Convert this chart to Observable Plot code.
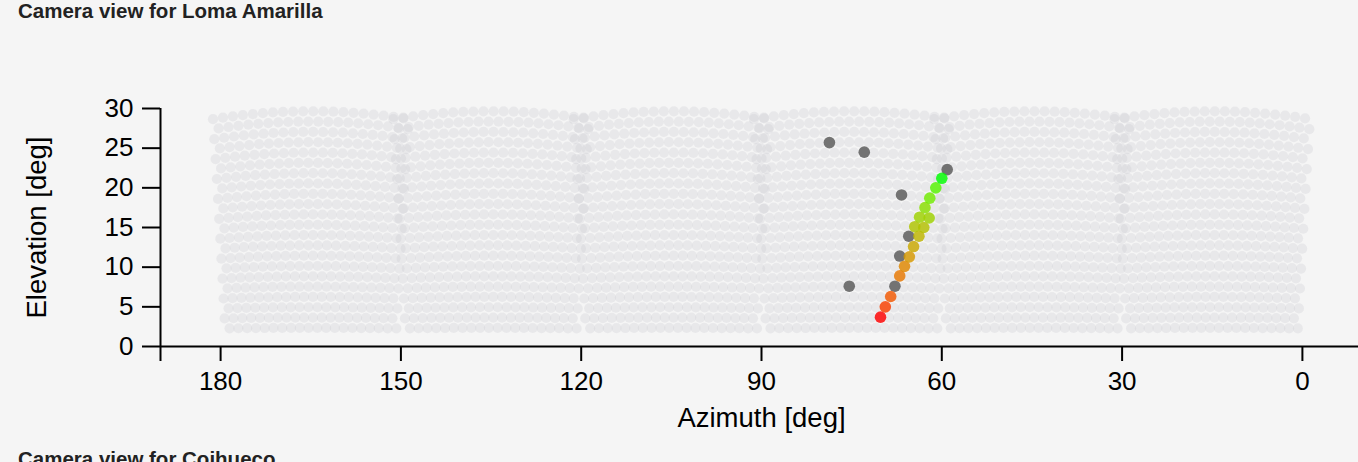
<!DOCTYPE html>
<html>
<head>
<meta charset="utf-8">
<script src="https://cdn.jsdelivr.net/npm/d3@7"></script>
<script src="https://cdn.jsdelivr.net/npm/@observablehq/plot@0.6"></script>
<style>
  html, body { margin: 0; padding: 0; background: #f5f5f5; overflow: hidden; width: 1358px; height: 462px; }
  .title { position: absolute; left: 18px; font: bold 20.5px "Liberation Sans", Arial, Helvetica, sans-serif; line-height: 20px; color: #222; white-space: nowrap; }
  #chart { position: absolute; left: 0; top: 30px; }
</style>
</head>
<body>
<div class="title" style="top:1px">Camera view for Loma Amarilla</div>
<div id="chart"></div>
<div class="title" style="top:449px">Camera view for Coihueco</div>
<script>
// ---- data ----
const xTicks = [180, 150, 120, 90, 60, 30, 0];
const yTicks = [0, 5, 10, 15, 20, 25, 30];
const cameraAzimuths = [165, 135, 105, 75, 45, 15];   // camera axis azimuths
const cameraElevation = 16;                            // camera axis elevation
const cameraColumns = 20;
const cameraRows = 22;

// triggered pixels on the track (azimuth, elevation, relative trigger time)
const trackAz   = [70.2, 69.4, 68.5, 67.0, 66.2, 65.4, 64.7, 63.8, 63.0, 64.5, 62.1, 63.7, 62.8, 62.0, 61.0, 60.0];
const trackEl   = [3.7, 5.0, 6.3, 8.9, 10.1, 11.3, 12.6, 13.9, 15.0, 15.1, 16.2, 16.3, 17.5, 18.7, 20.0, 21.2];
const trackTime = [0, 0.07, 0.14, 0.25, 0.32, 0.40, 0.48, 0.56, 0.62, 0.64, 0.72, 0.72, 0.80, 0.87, 0.93, 1.0];

// noise pixels (not on the track)
const noiseAz = [78.7, 72.9, 59.1, 66.7, 65.5, 67.0, 75.4, 67.8];
const noiseEl = [25.7, 24.5, 22.3, 19.1, 13.9, 11.4, 7.6, 7.6];

// ---- camera pixel layout (hexagonal grid projected onto az/el) ----
const deg = Math.PI / 180;
const pixels = [];
for (const c of cameraAzimuths) {
  const e0 = cameraElevation * deg;
  for (let j = 0; j < cameraRows; j++) {
    for (let i = 0; i < cameraColumns; i++) {
      const a = (i - (cameraColumns - 1) / 2 - 0.25 + 0.5 * (j % 2)) * 1.5 * deg;
      const b = (j - (cameraRows - 1) / 2) * 1.3 * deg;
      const x = Math.tan(a), y = Math.tan(b), z = 1;
      const y2 = y * Math.cos(e0) + z * Math.sin(e0);
      const z2 = -y * Math.sin(e0) + z * Math.cos(e0);
      pixels.push({
        az: c + Math.atan2(x, z2) / deg,
        el: Math.atan2(y2, Math.hypot(x, z2)) / deg
      });
    }
  }
}
const track = trackAz.map((az, i) => ({az, el: trackEl[i], t: trackTime[i]}));
const noise = noiseAz.map((az, i) => ({az, el: noiseEl[i]}));

const font = '"Liberation Sans", Arial, Helvetica, sans-serif';

const plot = Plot.plot({
  width: 1380,
  height: 410,
  marginLeft: 160,
  marginRight: 18,
  marginTop: 78,
  marginBottom: 94,
  style: {background: "transparent", maxWidth: "none", overflow: "visible", fontFamily: font, color: "black"},
  x: {domain: [190, -10], axis: null},
  y: {domain: [0, 30], axis: null},
  color: {type: "linear", domain: [0, 1], range: ["red", "lime"], interpolate: "lab"},
  marks: [
    Plot.dot(pixels, {x: "az", y: "el", r: 5.1, fill: "#c6c6ce", fillOpacity: 0.27, stroke: "none"}),
    Plot.dot(noise, {x: "az", y: "el", r: 5.8, fill: "#555", fillOpacity: 0.8, stroke: "none"}),
    Plot.dot(track, {x: "az", y: "el", r: 5.8, fill: "t", fillOpacity: 0.82, stroke: "none"}),
    Plot.ruleY([0], {stroke: "black", strokeWidth: 2}),
    Plot.ruleX([190], {y1: 30, y2: 0, stroke: "black", strokeWidth: 2, insetBottom: -15}),
    Plot.axisX({ticks: xTicks, tickSize: 15, tickPadding: 10, fontSize: 26, strokeWidth: 2, label: null, tickFormat: d => String(d)}),
    Plot.axisY({ticks: yTicks, tickSize: 18, tickPadding: 9, fontSize: 26, strokeWidth: 2, label: null}),
    Plot.text(["Azimuth [deg]"], {frameAnchor: "bottom", dy: 80, fontSize: 27.5, fill: "black"}),
    Plot.text(["Elevation [deg]"], {frameAnchor: "left", textAnchor: "middle", dx: -123, rotate: -90, fontSize: 27.5, fill: "black"})
  ]
});
document.getElementById("chart").appendChild(plot);
</script>
</body>
</html>
